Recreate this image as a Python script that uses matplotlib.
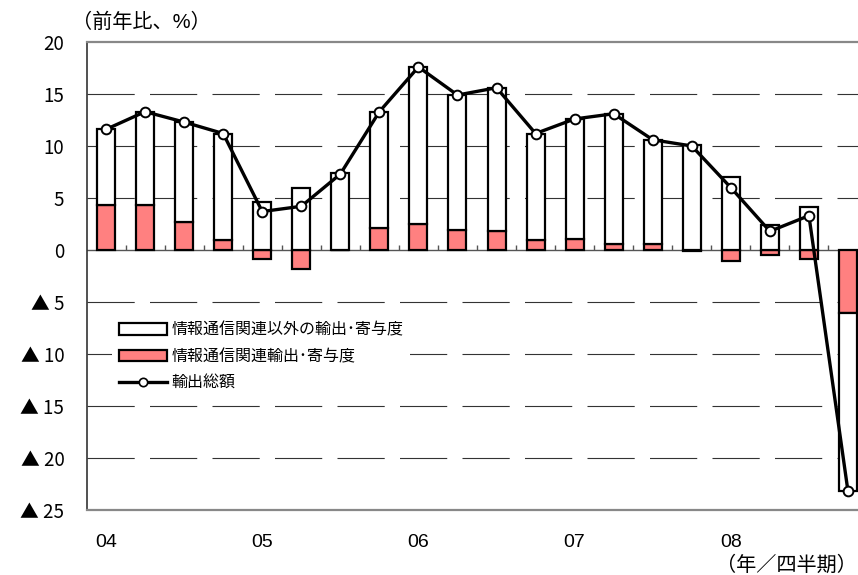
import numpy as np
import matplotlib.pyplot as plt
from matplotlib.patches import Patch
from matplotlib.lines import Line2D

plt.rcParams['font.family'] = ['Liberation Sans', 'Noto Sans CJK JP', 'DejaVu Sans']
plt.rcParams['lines.scale_dashes'] = False

# 2004Q1 - 2008Q4, 前年比 (%)
quarters = ['04', '', '', '', '05', '', '', '', '06', '', '', '',
            '07', '', '', '', '08', '', '', '']
it_contrib = [4.3, 4.3, 2.7, 1.0, -0.9, -1.8, 0.0, 2.1, 2.5, 1.9,
              1.8, 1.0, 1.1, 0.6, 0.6, -0.1, -1.1, -0.5, -0.9, -6.1]
non_it_contrib = [7.3, 9.0, 9.6, 10.2, 4.6, 6.0, 7.4, 11.2, 15.1, 13.0,
                  13.8, 10.2, 11.5, 12.5, 10.0, 10.1, 7.0, 2.4, 4.1, -17.1]
total = [11.6, 13.3, 12.3, 11.2, 3.7, 4.2, 7.3, 13.3, 17.6, 14.9,
         15.6, 11.2, 12.6, 13.1, 10.6, 10.0, 6.0, 1.8, 3.3, -23.2]

yticks = [20, 15, 10, 5, 0, -5, -10, -15, -20, -25]
ytick_labels = ['20', '15', '10', '5', '0', '▲ 5', '▲ 10', '▲ 15', '▲ 20', '▲ 25']

red = '#FF8080'
x = np.arange(len(total))
it = np.array(it_contrib)
nonit = np.array(non_it_contrib)
# excel-style stacking: positives and negatives stack separately
non_bottom = np.where(np.sign(nonit) == np.sign(it), it, 0.0)

fig = plt.figure(figsize=(8.58, 5.75), dpi=100)
ax = fig.add_axes([86.5 / 858, 65 / 575, 781 / 858, 468 / 575])

for v in yticks[1:-1]:
    if v == 0:
        continue
    ax.axhline(v, color='#333333', lw=0.8, ls=(0, (34, 11)), zorder=0)
ax.axhline(0, color='#555555', lw=1.0, zorder=1)
# category ticks on zero line
ax.vlines(x[1:] - 0.5, 0, 0.5, color='#555555', lw=1.0, zorder=1)

w = 0.46
ax.bar(x, it, width=w, color=red, edgecolor='black', lw=1.6, zorder=2)
ax.bar(x, nonit, width=w, bottom=non_bottom, color='white',
       edgecolor='black', lw=1.6, zorder=2)
ax.plot(x, total, color='black', lw=2.4, marker='o', ms=7,
        mfc='white', mec='black', mew=1.4, zorder=4)

ax.set_xlim(-0.5, 19.5)
ax.set_ylim(-25, 20)
ax.set_yticks(yticks)
ax.set_yticklabels(ytick_labels, fontsize=13.5, family=['Noto Sans CJK JP'])
ax.set_xticks(x)
ax.set_xticklabels(quarters, fontsize=14)
ax.tick_params(axis='y', length=0, pad=16)
ax.tick_params(axis='x', length=0, pad=17)

for s in ['top', 'bottom']:
    ax.spines[s].set_color('#888888')
    ax.spines[s].set_linewidth(1.6)
ax.spines['left'].set_color('#333333')
ax.spines['left'].set_linewidth(1.2)
ax.spines['right'].set_visible(False)

handles = [Patch(facecolor='white', edgecolor='black', lw=1.6),
           Patch(facecolor=red, edgecolor='black', lw=1.6),
           Line2D([], [], color='black', lw=2.4, marker='o', ms=6,
                  mfc='white', mec='black', mew=1.2)]
labels = ['情報通信関連以外の輸出･寄与度', '情報通信関連輸出･寄与度', '輸出総額']
leg = ax.legend(handles, labels, loc='upper left',
                bbox_to_anchor=(18 / 781, 1 - 266 / 468), frameon=True,
                fontsize=11.5, handlelength=3.0, handleheight=0.75,
                handletextpad=0.3, labelspacing=0.7, borderpad=0.4,
                numpoints=1)
leg.get_frame().set_edgecolor('none')
leg.get_frame().set_facecolor('white')
leg.get_frame().set_alpha(1)
leg.set_zorder(3)

fig.text(72 / 858, 1 - 22 / 575, '（前年比、%）', fontsize=14.5, va='center', ha='left')
fig.text(857 / 858, 1 - 565 / 575, '（年／四半期）', fontsize=14.5, va='center', ha='right')

fig.savefig('out.png', dpi=100)
